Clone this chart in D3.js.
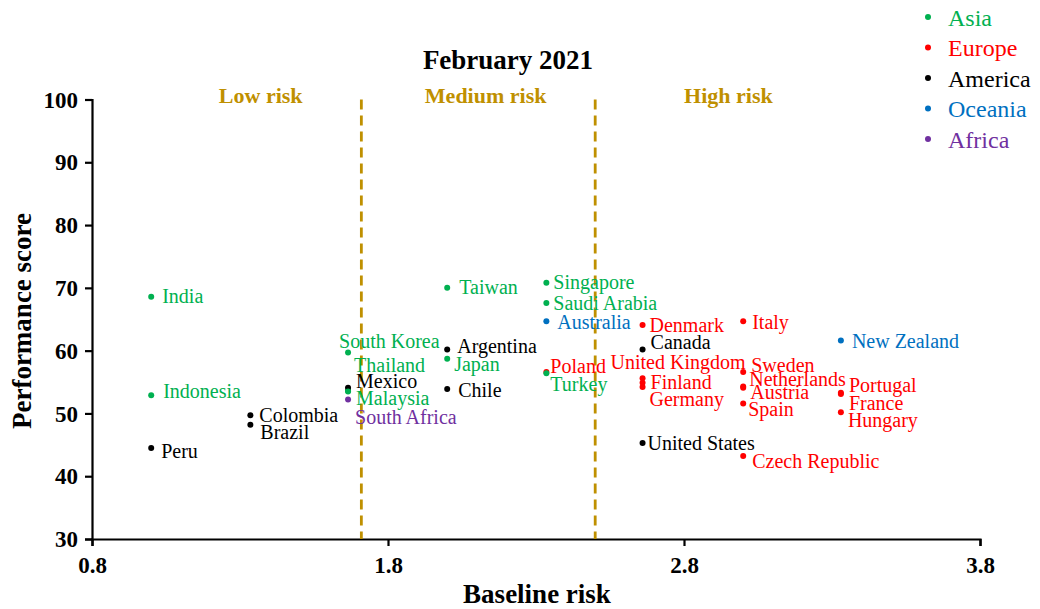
<!DOCTYPE html>
<html lang="en">

<head>
    <meta charset="UTF-8">
    <meta name="viewport" content="width=device-width, initial-scale=1.0">
    <title>February 2021 - Performance vs Baseline risk</title>
    <style>
        html,
        body {
            background-color: white;
            margin: 0;
        }

        svg {
            display: block;
            background-color: white;
        }

        text {
            font-family: "Liberation Serif", "Times New Roman", serif;
        }

        .axis path,
        .axis line {
            stroke: black;
            stroke-width: 2.2px;
        }

        .axis text {
            font-size: 23px;
            font-weight: bold;
            fill: black;
        }
    </style>
</head>

<body>
    <main></main>
    <script src="https://d3js.org/d3.v7.min.js"></script>
    <script>
        // - - - - - - - - - -
        // Data
        // - - - - - - - - - -
        const countries = [
            'India', 'Indonesia', 'Peru', 'Colombia', 'Brazil',
            'South Korea', 'Thailand', 'Mexico', 'Malaysia', 'South Africa',
            'Taiwan', 'Argentina', 'Japan', 'Chile',
            'Singapore', 'Saudi Arabia', 'Australia', 'Poland', 'Turkey',
            'Denmark', 'Canada', 'United Kingdom', 'Finland', 'Germany', 'United States',
            'Italy', 'Sweden', 'Netherlands', 'Austria', 'Spain', 'Czech Republic',
            'New Zealand', 'Portugal', 'France', 'Hungary'
        ];
        const continents = [
            'Asia', 'Asia', 'America', 'America', 'America',
            'Asia', 'Asia', 'America', 'Asia', 'Africa',
            'Asia', 'America', 'Asia', 'America',
            'Asia', 'Asia', 'Oceania', 'Europe', 'Asia',
            'Europe', 'America', 'Europe', 'Europe', 'Europe', 'America',
            'Europe', 'Europe', 'Europe', 'Europe', 'Europe', 'Europe',
            'Oceania', 'Europe', 'Europe', 'Europe'
        ];
        const baselineRisk = [
            1.0, 1.0, 1.0, 1.335, 1.335,
            1.665, 1.665, 1.665, 1.665, 1.665,
            2.0, 2.0, 2.0, 2.0,
            2.335, 2.335, 2.335, 2.335, 2.335,
            2.66, 2.66, 2.66, 2.66, 2.66, 2.66,
            3.0, 3.0, 3.0, 3.0, 3.0, 3.0,
            3.33, 3.33, 3.33, 3.33
        ];
        const performanceScore = [
            68.6, 52.9, 44.5, 49.7, 48.2,
            59.7, 53.6, 54.1, 53.5, 52.2,
            70.0, 60.2, 58.7, 53.9,
            70.8, 67.6, 64.7, 56.6, 56.4,
            64.1, 60.2, 55.6, 54.9, 54.2, 45.3,
            64.7, 56.6, 54.3, 54.1, 51.6, 43.2,
            61.6, 53.3, 53.1, 50.2
        ];
        const legendNames = ['Asia', 'Europe', 'America', 'Oceania', 'Africa'];
        const xTicks = [0.8, 1.8, 2.8, 3.8];
        const yTicks = [30, 40, 50, 60, 70, 80, 90, 100];
        const riskCuts = [1.71, 2.5];
        const riskNames = ['Low risk', 'Medium risk', 'High risk'];

        !(function () {
            'use strict';

            let svg, x, y, color;

            const canvas = { width: 1040, height: 609 };
            const plot = { left: 92, right: 980, top: 99.5, bottom: 539 };

            // label nudges in px (text left edge, text middle) relative to the dot
            const labelNudge = {
                'India': [11, 0], 'Indonesia': [12, -4], 'Peru': [10, 3],
                'Colombia': [9, 0], 'Brazil': [10, 8],
                'South Korea': [-9, -11], 'Thailand': [6, -25], 'Mexico': [8, -6],
                'Malaysia': [8, 7], 'South Africa': [7, 18],
                'Taiwan': [12, 0], 'Argentina': [10, -3], 'Japan': [7, 6], 'Chile': [11, 1],
                'Singapore': [7, 0], 'Saudi Arabia': [7, 0], 'Australia': [11, 1],
                'Poland': [4, -6], 'Turkey': [4, 11],
                'Denmark': [7, 0], 'Canada': [8, -7], 'United Kingdom': [-32, -16],
                'Finland': [8, 0], 'Germany': [7, 12], 'United States': [5, 0],
                'Italy': [9, 1], 'Sweden': [8, -7], 'Netherlands': [6, -7],
                'Austria': [7, 5], 'Spain': [5, 6], 'Czech Republic': [9, 5],
                'New Zealand': [11, 1], 'Portugal': [8, -7], 'France': [8, 9],
                'Hungary': [7, 8]
            };
            // centre of each risk band caption, in baseline-risk units
            const riskNameX = [1.37, 2.13, 2.95];

            /** Set the svg container and scales */
            function setSvg() {
                svg = d3.select('main')
                    .append('svg')
                    .attr('width', canvas.width)
                    .attr('height', canvas.height);

                x = d3.scaleLinear().domain([0.8, 3.8]).range([plot.left, plot.right]);
                y = d3.scaleLinear().domain([30, 100]).range([plot.bottom, plot.top]);

                color = d3.scaleOrdinal()
                    .domain(legendNames)
                    .range(['#00B050', '#FF0000', '#000000', '#0070C0', '#7030A0']);
            }

            /** Axes, titles and risk bands */
            function drawFrame() {
                svg.append('g')
                    .attr('class', 'axis')
                    .attr('transform', 'translate(0,' + plot.bottom + ')')
                    .call(d3.axisBottom(x).tickValues(xTicks).tickFormat(d3.format('.1f'))
                        .tickSizeOuter(0).tickSize(7).tickPadding(11));

                svg.append('g')
                    .attr('class', 'axis')
                    .attr('transform', 'translate(' + plot.left + ',0)')
                    .call(d3.axisLeft(y).tickValues(yTicks).tickSizeOuter(0)
                        .tickSize(7).tickPadding(7))
                    .selectAll('.tick text')
                    .attr('dy', '0.33em');

                svg.append('text')
                    .attr('x', 508).attr('y', 69)
                    .attr('text-anchor', 'middle')
                    .style('font-size', '27px').style('font-weight', 'bold')
                    .text('February 2021');

                svg.append('text')
                    .attr('x', 537).attr('y', 603)
                    .attr('text-anchor', 'middle')
                    .style('font-size', '27px').style('font-weight', 'bold')
                    .text('Baseline risk');

                svg.append('text')
                    .attr('transform', 'translate(31,' + 321 + ') rotate(-90)')
                    .attr('text-anchor', 'middle')
                    .style('font-size', '27px').style('font-weight', 'bold')
                    .text('Performance score');

                svg.selectAll('line.cut')
                    .data(riskCuts)
                    .enter().append('line')
                    .attr('class', 'cut')
                    .attr('x1', d => x(d)).attr('x2', d => x(d))
                    .attr('y1', y(100)).attr('y2', y(30))
                    .attr('stroke', '#BF9000')
                    .attr('stroke-width', 2.8)
                    .attr('stroke-dasharray', '10,6');

                svg.selectAll('text.risk')
                    .data(riskNames)
                    .enter().append('text')
                    .attr('class', 'risk')
                    .attr('x', (d, i) => x(riskNameX[i]))
                    .attr('y', 103)
                    .attr('text-anchor', 'middle')
                    .style('font-size', '22px').style('font-weight', 'bold')
                    .style('fill', '#BF9000')
                    .text(d => d);
            }

            /** Points and their labels */
            function drawPoints() {
                const rows = countries.map((name, i) => ({
                    name: name,
                    region: continents[i],
                    risk: baselineRisk[i],
                    score: performanceScore[i]
                }));

                svg.append('g').selectAll('circle')
                    .data(rows)
                    .enter().append('circle')
                    .attr('cx', d => x(d.risk))
                    .attr('cy', d => y(d.score))
                    .attr('r', 3)
                    .attr('fill', d => color(d.region));

                svg.append('g').selectAll('text')
                    .data(rows)
                    .enter().append('text')
                    .attr('x', d => x(d.risk) + labelNudge[d.name][0])
                    .attr('y', d => y(d.score) + labelNudge[d.name][1])
                    .attr('dy', '0.33em')
                    .style('font-size', '20px')
                    .style('fill', d => color(d.region))
                    .text(d => d.name);
            }

            /** Legend at top right */
            function drawLegend() {
                const item = svg.append('g').selectAll('g')
                    .data(legendNames)
                    .enter().append('g')
                    .attr('transform', (d, i) => 'translate(928,' + (18 + i * 30.5) + ')');

                item.append('circle')
                    .attr('r', 3)
                    .attr('cy', -1)
                    .attr('fill', d => color(d));

                item.append('text')
                    .attr('x', 20)
                    .attr('dy', '0.33em')
                    .style('font-size', '24px')
                    .style('fill', d => color(d))
                    .text(d => d);
            }

            function main() {
                setSvg();
                drawFrame();
                drawPoints();
                drawLegend();
            }

            window.addEventListener('load', main);
        }());
    </script>
</body>

</html>
